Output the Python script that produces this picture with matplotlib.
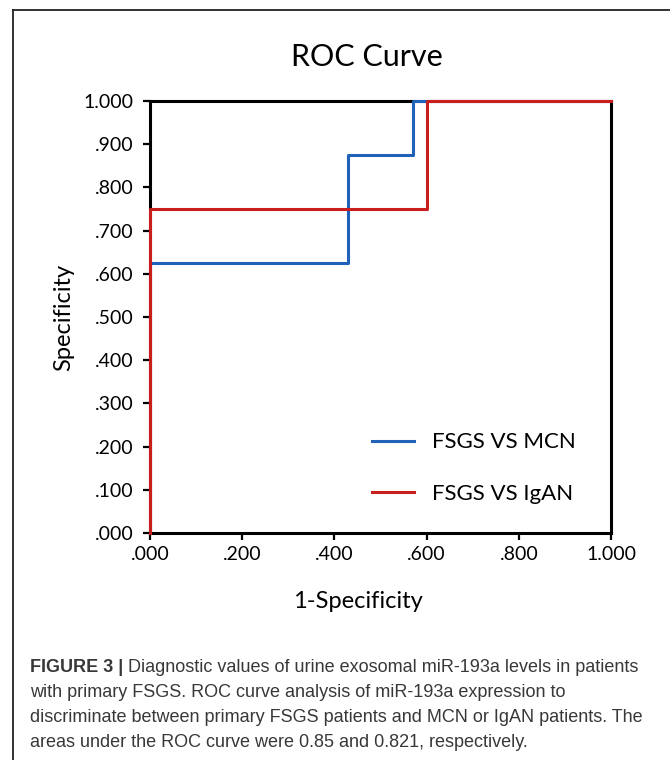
import matplotlib
matplotlib.use("Agg")
import matplotlib.pyplot as plt
from matplotlib.lines import Line2D

# ROC step curves
mcn_fpr = [0.0, 0.0, 3 / 7, 3 / 7, 4 / 7, 4 / 7, 1.0]
mcn_tpr = [0.0, 0.625, 0.625, 0.875, 0.875, 1.0, 1.0]
igan_fpr = [0.0, 0.0, 0.6, 0.6, 1.0]
igan_tpr = [0.0, 0.75, 0.75, 1.0, 1.0]
series_labels = ["FSGS VS MCN", "FSGS VS IgAN"]
series_colors = ["#1f62b8", "#c81e1e"]

x_ticks = [0.0, 0.2, 0.4, 0.6, 0.8, 1.0]
x_ticklabels = [".000", ".200", ".400", ".600", ".800", "1.000"]
y_ticks = [i / 10 for i in range(11)]
y_ticklabels = [".000", ".100", ".200", ".300", ".400", ".500",
                ".600", ".700", ".800", ".900", "1.000"]

caption_bold = "FIGURE 3 |"
caption_lines = [" Diagnostic values of urine exosomal miR-193a levels in patients",
                 "with primary FSGS. ROC curve analysis of miR-193a expression to",
                 "discriminate between primary FSGS patients and MCN or IgAN patients. The",
                 "areas under the ROC curve were 0.85 and 0.821, respectively."]

plt.rcParams['font.family'] = ['Lato', 'DejaVu Sans']

fig = plt.figure(figsize=(6.7, 7.6), dpi=100)
ax = fig.add_axes([150 / 670, 1 - 533 / 760, 461 / 670, 432 / 760])

# curves go above the spines, as in the original
ax.plot(mcn_fpr, mcn_tpr, color=series_colors[0], lw=2.2, label=series_labels[0],
        zorder=4, clip_on=False)
ax.plot(igan_fpr, igan_tpr, color=series_colors[1], lw=2.2, label=series_labels[1],
        zorder=5, clip_on=False)

ax.set_xlim(0, 1)
ax.set_ylim(0, 1)
for s in ax.spines.values():
    s.set_linewidth(2.2)
    s.set_color("black")
    s.set_zorder(3)

ax.set_xticks(x_ticks)
ax.set_xticklabels(x_ticklabels)
ax.set_yticks(y_ticks)
ax.set_yticklabels(y_ticklabels)
ax.tick_params(axis="both", direction="out", length=5, width=1.6, labelsize=14,
               colors="black")
ax.tick_params(axis="x", pad=4)
ax.tick_params(axis="y", pad=7)

ax.set_title("ROC Curve", fontsize=22, pad=25, x=0.47)
ax.set_xlabel("1-Specificity", fontsize=17)
ax.set_ylabel("Specificity", fontsize=17)
ax.xaxis.set_label_coords(0.451, -0.135)
ax.yaxis.set_label_coords(-0.165, 0.5)

ax.legend(loc="center left", bbox_to_anchor=(372 / 670, 1 - 468 / 760),
          bbox_transform=fig.transFigure, frameon=False, fontsize=16,
          handlelength=1.9, handletextpad=0.8, labelspacing=1.4,
          borderpad=0, borderaxespad=0)

# frame around the figure panel (cut off at right and bottom)
fig.add_artist(Line2D([13 / 670, 13 / 670], [0, 1 - 10 / 760], color="#222222", lw=1.3))
fig.add_artist(Line2D([13 / 670, 1], [1 - 10 / 760, 1 - 10 / 760], color="#222222", lw=1.3))

# caption: bold lead-in, then the rest on the same baseline
cap_font = ['Liberation Sans', 'DejaVu Sans']
cap_size = 13
cap_color = "#383838"
base_y = [672, 697, 722, 747]
t = fig.text(30 / 670, 1 - base_y[0] / 760, caption_bold, fontsize=cap_size,
             fontweight="bold", color=cap_color, family=cap_font, va="baseline")
fig.canvas.draw()
bb = t.get_window_extent()
fig.text(bb.x1 / 670, 1 - base_y[0] / 760, caption_lines[0], fontsize=cap_size,
         color=cap_color, family=cap_font, va="baseline")
for line, y in zip(caption_lines[1:], base_y[1:]):
    fig.text(30 / 670, 1 - y / 760, line, fontsize=cap_size, color=cap_color,
             family=cap_font, va="baseline")

fig.savefig("out.png", dpi=100)
